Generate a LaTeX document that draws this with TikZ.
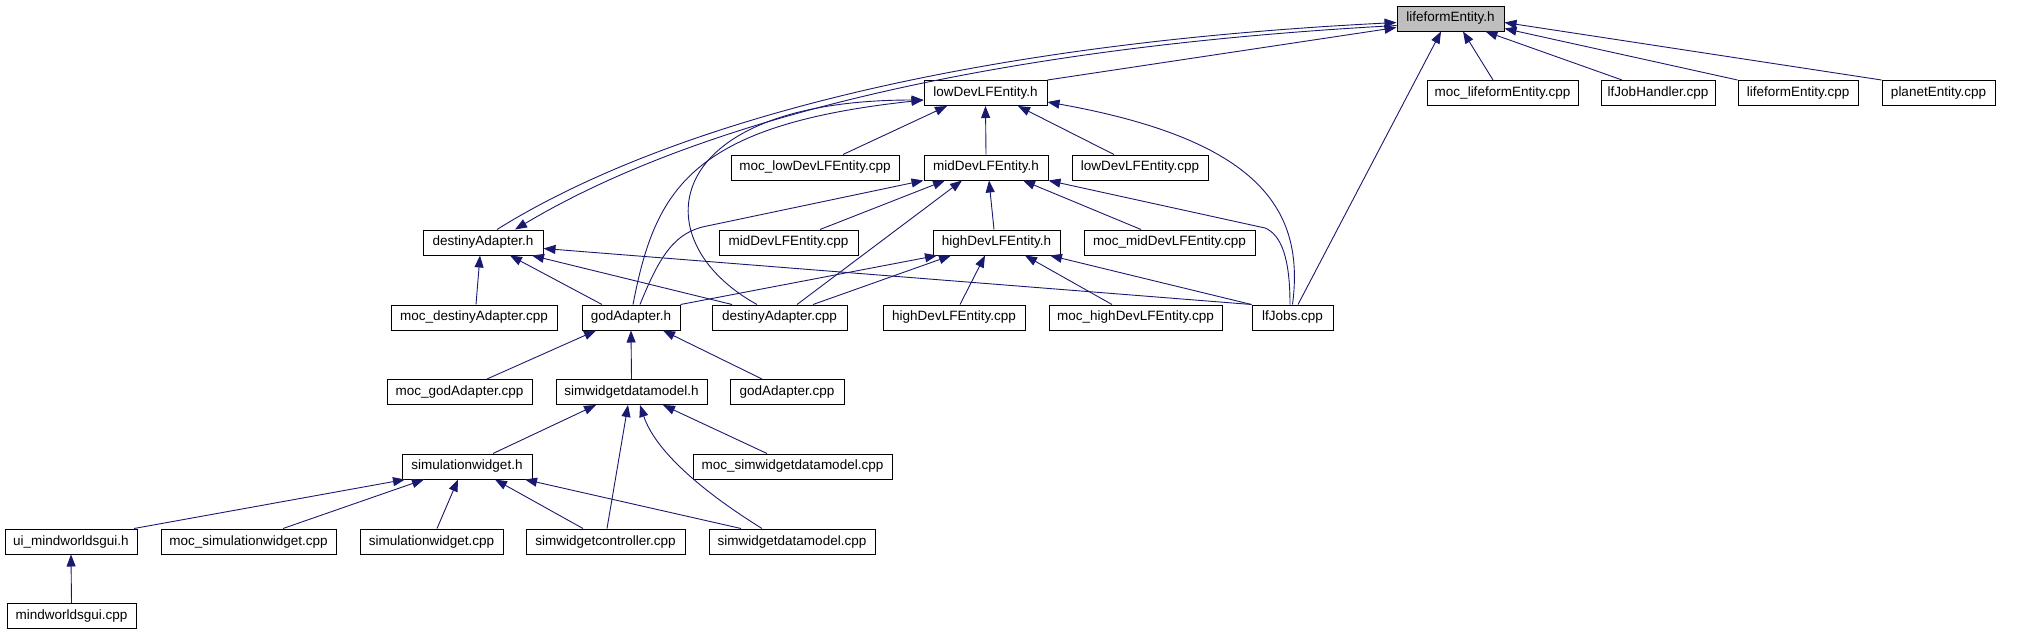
\documentclass[tikz,border=0pt]{standalone}
\usepackage{fontspec}
\setmainfont{Liberation Sans}
\usepackage{xcolor}
\usepackage{tikz}
\usetikzlibrary{arrows.meta}

\definecolor{edgeblue}{RGB}{25,25,112}
\definecolor{headgray}{RGB}{191,191,191}

\begin{document}
\begin{tikzpicture}[
    x=1pt, y=-1pt,
    file/.style={rectangle, draw=black, line width=1pt, fill=#1, minimum height=25pt, inner sep=0pt, font=\fontsize{13.5}{15}\selectfont},
    file/.default=white,
    edge/.style={-{Triangle[length=12pt, width=9pt]}, draw=edgeblue, line width=0.9pt}
]
\useasboundingbox (0,0) rectangle (2020,635);

% ---- Top: the header itself ----
\node[file=headgray, minimum width=107] (lfe) at (1450.5,18.5) {lifeformEntity.h};

% ---- Row 1 ----
\node[file, minimum width=123] (lowh) at (985.5,93) {lowDevLFEntity.h};
\node[file, minimum width=151] (moclfe) at (1502.5,93) {moc\_lifeformEntity.cpp};
\node[file, minimum width=114] (jobh) at (1658,93) {lfJobHandler.cpp};
\node[file, minimum width=120] (lfecpp) at (1798,93) {lifeformEntity.cpp};
\node[file, minimum width=113] (planet) at (1938.5,93) {planetEntity.cpp};

% ---- Row 2 ----
\node[file, minimum width=168] (moclow) at (815,167.5) {moc\_lowDevLFEntity.cpp};
\node[file, minimum width=124] (midh) at (986,167.5) {midDevLFEntity.h};
\node[file, minimum width=136] (lowcpp) at (1140,167.5) {lowDevLFEntity.cpp};

% ---- Row 3 ----
\node[file, minimum width=120] (desth) at (483,242.5) {destinyAdapter.h};
\node[file, minimum width=139] (midcpp) at (788.5,242.5) {midDevLFEntity.cpp};
\node[file, minimum width=127] (highh) at (996.5,242.5) {highDevLFEntity.h};
\node[file, minimum width=171] (mocmid) at (1169.5,242.5) {moc\_midDevLFEntity.cpp};

% ---- Row 4 ----
\node[file, minimum width=166] (mocdest) at (474,317.5) {moc\_destinyAdapter.cpp};
\node[file, minimum width=98] (godh) at (631,317.5) {godAdapter.h};
\node[file, minimum width=135] (destcpp) at (779.5,317.5) {destinyAdapter.cpp};
\node[file, minimum width=142] (highcpp) at (954,317.5) {highDevLFEntity.cpp};
\node[file, minimum width=173] (mochigh) at (1135.5,317.5) {moc\_highDevLFEntity.cpp};
\node[file, minimum width=81] (jobs) at (1292.5,317.5) {lfJobs.cpp};

% ---- Row 5 ----
\node[file, minimum width=145] (mocgod) at (459.5,392) {moc\_godAdapter.cpp};
\node[file, minimum width=151] (modelh) at (631.5,392) {simwidgetdatamodel.h};
\node[file, minimum width=114] (godcpp) at (787,392) {godAdapter.cpp};

% ---- Row 6 ----
\node[file, minimum width=130] (simh) at (467,466.5) {simulationwidget.h};
\node[file, minimum width=199] (mocmodel) at (792.5,466.5) {moc\_simwidgetdatamodel.cpp};

% ---- Row 7 ----
\node[file, minimum width=132] (uih) at (71,541.5) {ui\_mindworldsgui.h};
\node[file, minimum width=175] (mocsim) at (248.5,541.5) {moc\_simulationwidget.cpp};
\node[file, minimum width=143] (simcpp) at (431.5,541.5) {simulationwidget.cpp};
\node[file, minimum width=159] (ctrlcpp) at (605.5,541.5) {simwidgetcontroller.cpp};
\node[file, minimum width=166] (modelcpp) at (792,541.5) {simwidgetdatamodel.cpp};

% ---- Row 8 ----
\node[file, minimum width=129] (guicpp) at (71.5,616) {mindworldsgui.cpp};

% ---- Edges into lifeformEntity.h ----
\draw[edge] (lowh.north east) -- ([yshift=-9]lfe.west);
\draw[edge] ([xshift=14]desth.north) .. controls (600,165) and (850,50) .. ([yshift=-4]lfe.west);
\draw[edge] ([yshift=-7]lfe.west) .. controls (850,55) and (615,170) .. ([xshift=32]desth.north);
\draw[edge] ([xshift=-9.5]moclfe.north) -- ([xshift=12.5]lfe.south);
\draw[edge] ([xshift=-36]jobh.north) -- ([xshift=35]lfe.south);
\draw[edge] (lfecpp.north west) -- ([yshift=-10]lfe.east);
\draw[edge] (planet.north west) -- ([yshift=-4]lfe.east);
\draw[edge] ([xshift=5.5]jobs.north) -- ([xshift=-9.5]lfe.south);

% ---- Edges into lowDevLFEntity.h ----
\draw[edge] ([xshift=28]moclow.north) -- ([xshift=-38.5]lowh.south);
\draw[edge] (midh.north) -- (lowh.south);
\draw[edge] ([xshift=-26]lowcpp.north) -- ([xshift=32.5]lowh.south);
\draw[edge] (jobs.north) .. controls (1305,210) and (1260,140) .. ([yshift=-9]lowh.east);
\draw[edge] ([xshift=2]godh.north) .. controls (655,190) and (690,125) .. ([yshift=-7]lowh.west);
\draw[edge] ([xshift=-22.5]destcpp.north) .. controls (640,240) and (660,100) .. ([yshift=-7]lowh.west);

% ---- Edges into midDevLFEntity.h ----
\draw[edge] ([xshift=9]godh.north) .. controls (660,255) and (675,232) .. (707,226) -- (midh.south west);
\draw[edge] ([xshift=31.5]midcpp.north) -- ([xshift=-41]midh.south);
\draw[edge] ([xshift=17.5]destcpp.north) -- ([xshift=-24]midh.south);
\draw[edge] ([xshift=-2.5]highh.north) -- ([xshift=3]midh.south);
\draw[edge] ([xshift=-28.5]mocmid.north) -- ([xshift=37]midh.south);
\draw[edge] ([xshift=-2.5]jobs.north) .. controls (1290,260) and (1282,235) .. (1265,228) -- (midh.south east);

% ---- Edges into highDevLFEntity.h ----
\draw[edge] (godh.north east) -- ([xshift=-59.5]highh.south);
\draw[edge] ([xshift=33.5]destcpp.north) -- ([xshift=-45.5]highh.south);
\draw[edge] ([xshift=6]highcpp.north) -- ([xshift=-11.5]highh.south);
\draw[edge] ([xshift=-23.5]mochigh.north) -- ([xshift=28.5]highh.south);
\draw[edge] (jobs.north west) -- ([xshift=53.5]highh.south);

% ---- Edges into destinyAdapter.h ----
\draw[edge] ([xshift=2]mocdest.north) -- ([xshift=-3]desth.south);
\draw[edge] ([xshift=-29]godh.north) -- ([xshift=27]desth.south);
\draw[edge] ([xshift=-47.5]destcpp.north) -- ([xshift=49]desth.south);
\draw[edge] (jobs.north west) -- ([yshift=-6]desth.east);

% ---- Edges into godAdapter.h ----
\draw[edge] ([xshift=27.5]mocgod.north) -- ([xshift=-35]godh.south);
\draw[edge] (modelh.north) -- (godh.south);
\draw[edge] ([xshift=-25]godcpp.north) -- ([xshift=32]godh.south);

% ---- Edges into simwidgetdatamodel.h ----
\draw[edge] ([xshift=26]simh.north) -- ([xshift=-35.5]modelh.south);
\draw[edge] ([xshift=1.5]ctrlcpp.north) -- ([xshift=-3.5]modelh.south);
\draw[edge] ([xshift=-30]modelcpp.north) .. controls (700,490) and (655,450) .. ([xshift=8.5]modelh.south);
\draw[edge] ([xshift=-25.5]mocmodel.north) -- ([xshift=31.5]modelh.south);

% ---- Edges into simulationwidget.h ----
\draw[edge] ([xshift=63]uih.north) -- ([xshift=-62]simh.south);
\draw[edge] ([xshift=34.5]mocsim.north) -- ([xshift=-43]simh.south);
\draw[edge] ([xshift=5.5]simcpp.north) -- ([xshift=-9]simh.south);
\draw[edge] ([xshift=-22.5]ctrlcpp.north) -- ([xshift=28]simh.south);
\draw[edge] ([xshift=-51]modelcpp.north) -- ([xshift=58]simh.south);

\draw[edge] (guicpp.north) -- (uih.south);

\end{tikzpicture}
\end{document}
